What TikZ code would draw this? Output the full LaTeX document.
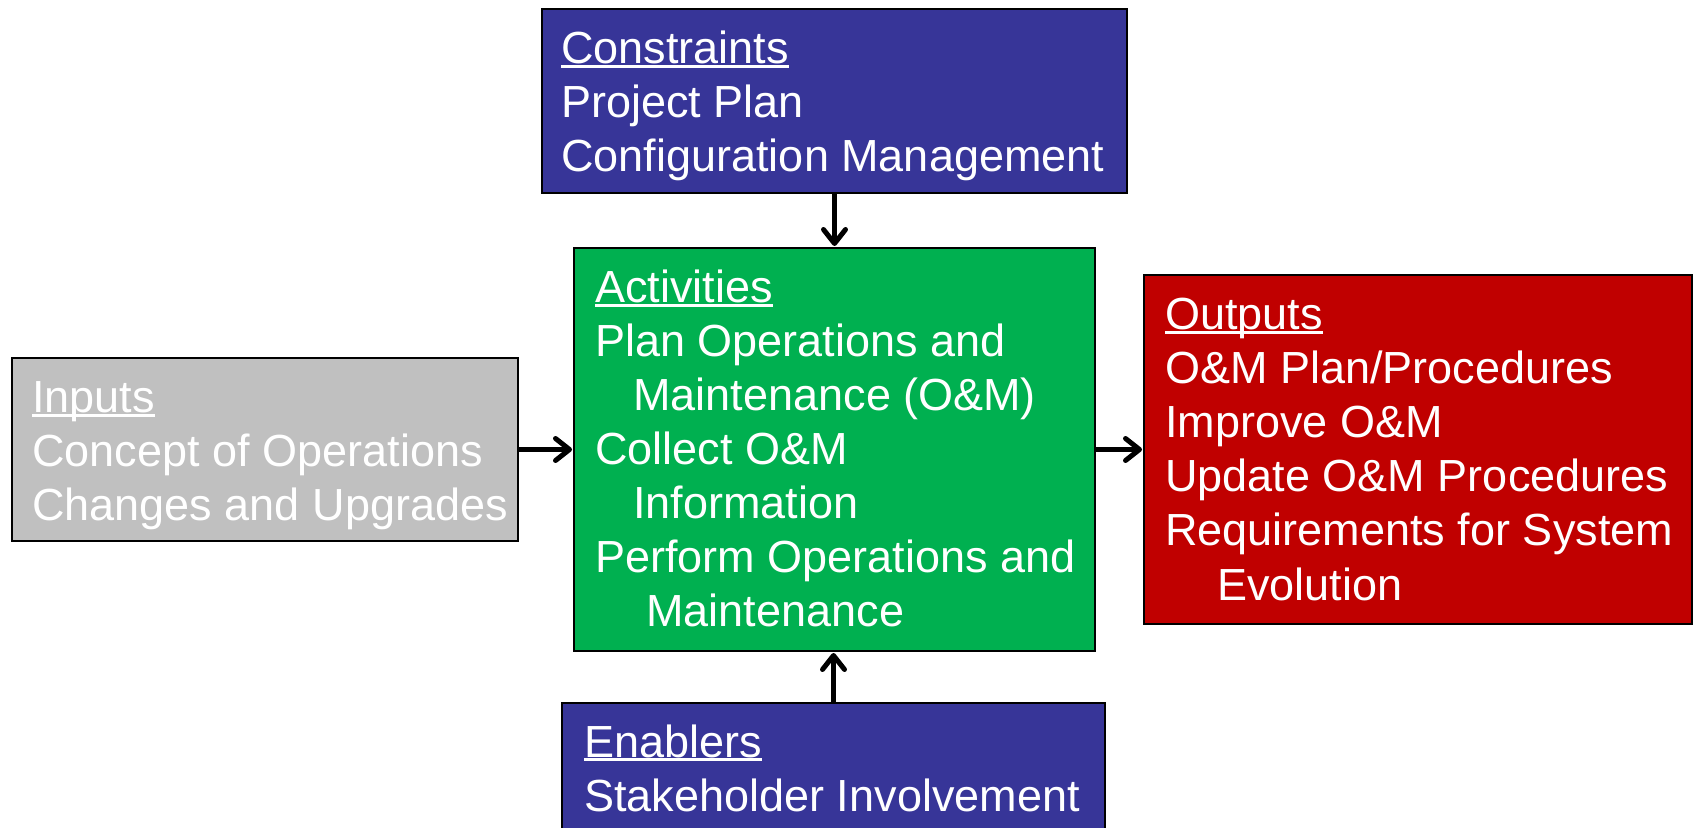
\documentclass[tikz,border=0pt]{standalone}
\usepackage{fontspec}
\setmainfont{Liberation Sans}
\usetikzlibrary{arrows.meta}
\definecolor{cblue}{RGB}{55,53,152}
\definecolor{cgreen}{RGB}{0,176,80}
\definecolor{cred}{RGB}{192,0,0}
\definecolor{cgray}{RGB}{192,192,192}
\newcommand{\hdr}[1]{\setbox0\hbox{#1}\rlap{\rule[-0.085em]{\wd0}{0.055em}}\box0}
\newcommand{\txtblock}[1]{\begin{tabular}[t]{@{}l@{}}#1\end{tabular}}
\begin{document}
\begin{tikzpicture}[x=0.5pt,y=-0.5pt,
  box/.style={draw=black, line width=1pt, inner sep=0, rectangle},
  label/.style={inner sep=0, anchor=base west, text=white, font=\fontsize{22.5}{27}\selectfont},
  flow/.style={line width=2.5pt, -{Straight Barb[length=7pt,width=11pt,line cap=round,round]}, shorten >=0.5pt}]
\useasboundingbox (0,0) rectangle (1696,828);
\clip (0,0) rectangle (1696,828);
\node[box, fill=cblue, minimum width=292.5pt, minimum height=92pt] (cons) at (834.5,101) {};
\node[box, fill=cgreen, minimum width=260.5pt, minimum height=201.5pt] (act) at (834.5,449.5) {};
\node[box, fill=cgray, minimum width=253pt, minimum height=91.5pt] (inp) at (265,449.5) {};
\node[box, fill=cred, minimum width=274pt, minimum height=174.5pt] (out) at (1418,449.5) {};
\node[box, fill=cblue, minimum width=271.5pt, minimum height=83.5pt] (enab) at (833.5,786.5) {};

\node[label] (tcons) at (561,64) {\txtblock{\hdr{Constraints}\\Project Plan\\Configuration Management}};
\node[label] (tact) at (595,303) {\txtblock{\hdr{Activities}\\Plan Operations and\\\hspace*{19pt}Maintenance (O\&M)\\Collect O\&M\\\hspace*{19pt}Information\\Perform Operations and\\\hspace*{25.5pt}Maintenance}};
\node[label] (tinp) at (32,413) {\txtblock{\hdr{Inputs}\\Concept of Operations\\Changes and Upgrades}};
\node[label] (tout) at (1165,330) {\txtblock{\hdr{Outputs}\\O\&M Plan/Procedures\\Improve O\&M\\Update O\&M Procedures\\Requirements for System\\\hspace*{26pt}Evolution}};
\node[label] (tenab) at (584,757) {\txtblock{\hdr{Enablers}\\Stakeholder Involvement}};

\draw[flow] (cons.south) -- (act.north);
\draw[flow] (inp.east) -- (act.west);
\draw[flow] (act.east) -- (out.west);
\draw[flow] (enab.north) -- (enab.north |- act.south);
\end{tikzpicture}
\end{document}
